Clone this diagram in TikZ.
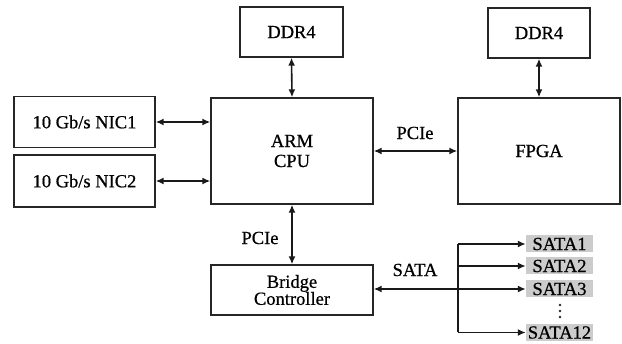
\documentclass[tikz,border=0pt]{standalone}
\usepackage{fontspec}
\setmainfont{Liberation Serif}[FakeBold=0.7]
\usetikzlibrary{arrows.meta}
\begin{document}
\begin{tikzpicture}[x=1pt,y=-1pt,
  txt/.style={font=\fontsize{18.5}{20}\selectfont},
  blk/.style={txt,draw=black!85,line width=1.3pt,fill=white,inner sep=0pt,align=center},
  sata/.style={txt,fill=black!20,inner sep=0pt,minimum width=67pt,minimum height=17pt},
  lbl/.style={txt,inner sep=0pt},
  dot/.style={circle,fill=black!85,inner sep=0pt,minimum size=2.6pt},
  link/.style={line width=1.6pt,draw=black!90,{Latex[length=8pt,width=7pt]}-{Latex[length=8pt,width=7pt]}},
  one/.style={line width=1.6pt,draw=black!90,-{Latex[length=8pt,width=7pt]}},
  plain/.style={line width=1.6pt,draw=black!90}]
\useasboundingbox (0,0) rectangle (622,344);
\node[blk,minimum width=103pt,minimum height=50pt] (ddr1) at (291.5,32) {DDR4};
\node[blk,minimum width=162pt,minimum height=106pt] (arm) at (292,151) {ARM\\CPU};
\node[blk,minimum width=141pt,minimum height=51pt] (nic1) at (84.5,122) {10 Gb/s NIC1};
\node[blk,minimum width=141pt,minimum height=52pt] (nic2) at (84.5,181) {10 Gb/s NIC2};
\node[blk,minimum width=102pt,minimum height=50pt] (ddr2) at (539,33) {DDR4};
\node[blk,minimum width=162pt,minimum height=106pt] (fpga) at (539,151) {FPGA};
\node[blk,minimum width=162pt,minimum height=50pt] (bridge) at (292,290) {Bridge\\[-3pt]Controller};
\node[sata] (s1) at (559.5,244) {SATA1};
\node[sata] (s2) at (559.5,266) {SATA2};
\node[sata] (s3) at (559.5,289) {SATA3};
\node[sata] (s12) at (559.5,332.5) {SATA12};
\node[dot] (d1) at (560,305) {};
\node[dot] (d2) at (560,311) {};
\node[dot] (d3) at (560,317) {};
\node[lbl] (l1) at (415,133) {PCIe};
\node[lbl] (l2) at (260,238) {PCIe};
\node[lbl] (l3) at (415,270) {SATA};
\coordinate (bus) at (458,289);
\draw[link] (ddr1.south) -- (arm.north);
\draw[link] (ddr2.south) -- (fpga.north);
\draw[link] (nic1.east) -- (nic1.east -| arm.west);
\draw[link] (nic2.east) -- (nic2.east -| arm.west);
\draw[link] (arm.east) -- (fpga.west);
\draw[link] (arm.south) -- (bridge.north);
\draw[link] (bridge.east |- bus) -- (s3.west);
\draw[plain] (s1.west -| bus) -- (s12.west -| bus);
\draw[one] (s1.west -| bus) -- (s1.west);
\draw[one] (s2.west -| bus) -- (s2.west);
\draw[one] (s12.west -| bus) -- (s12.west);
\end{tikzpicture}
\end{document}
